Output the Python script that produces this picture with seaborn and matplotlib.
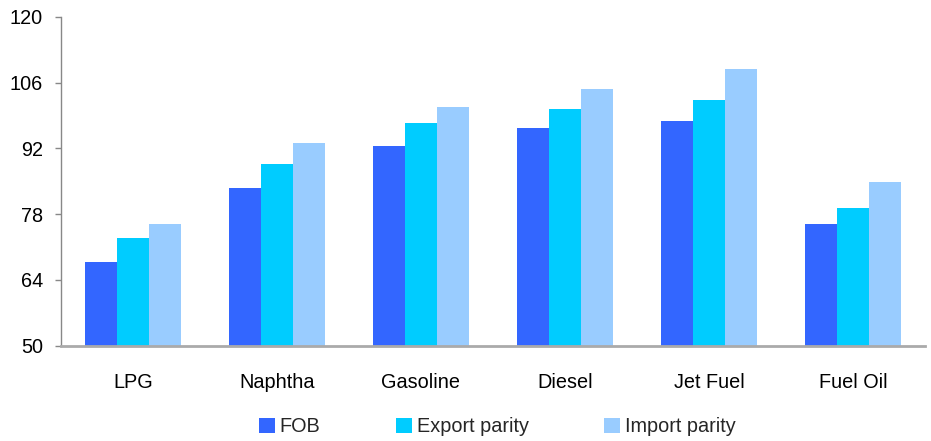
import matplotlib
matplotlib.use("Agg")
import matplotlib.pyplot as plt
from matplotlib.patches import Patch
import seaborn as sns
import pandas as pd

categories = ["LPG", "Naphtha", "Gasoline", "Diesel", "Jet Fuel", "Fuel Oil"]
fob = [67.8, 83.5, 92.5, 96.3, 97.8, 75.9]
export_parity = [72.9, 88.7, 97.4, 100.4, 102.3, 79.3]
import_parity = [75.9, 93.1, 100.8, 104.6, 108.9, 84.8]
series_names = ["FOB", "Export parity", "Import parity"]
colors = ["#3366FF", "#00CCFF", "#99CCFF"]
y_ticks = [50, 64, 78, 92, 106, 120]

df = pd.DataFrame({
    "product": categories * 3,
    "series": [s for s in series_names for _ in categories],
    "value": fob + export_parity + import_parity,
})

sns.set_theme(style="white")
plt.rcParams["font.family"] = ["Liberation Sans", "DejaVu Sans"]
fs = 14.3

fig = plt.figure(figsize=(9.31, 4.41), dpi=100)
ax = fig.add_axes([61 / 931, 1 - 345.7 / 441, (925 - 61) / 931, (345.7 - 16.7) / 441])

sns.barplot(data=df, x="product", y="value", hue="series", order=categories,
            hue_order=series_names, palette=colors, width=0.667, saturation=1,
            linewidth=0, ax=ax, legend=False)

ax.set_ylim(50, 120)
ax.set_yticks(y_ticks)
ax.set_xlim(-0.5, len(categories) - 0.5)
ax.set_xlabel("")
ax.set_ylabel("")
ax.tick_params(axis="y", which="both", left=True, length=4, width=1,
               color="#888888", labelsize=fs, pad=9, labelcolor="black")
ax.tick_params(axis="x", bottom=False, labelsize=fs, pad=14, labelcolor="black")
for side in ["top", "right"]:
    ax.spines[side].set_visible(False)
ax.spines["left"].set_color("#888888")
ax.spines["left"].set_linewidth(1)
ax.spines["bottom"].set_color("#aaaaaa")
ax.spines["bottom"].set_linewidth(2)

handles = [Patch(facecolor=c, edgecolor="none", label=n) for c, n in zip(colors, series_names)]
fig.legend(handles=handles, loc="center left", bbox_to_anchor=(241 / 931, 1 - 427 / 441),
           ncol=3, frameon=False, fontsize=fs, handlelength=0.8, handleheight=0.8,
           handletextpad=0.25, columnspacing=3.8)

fig.savefig("out.png", dpi=100)
